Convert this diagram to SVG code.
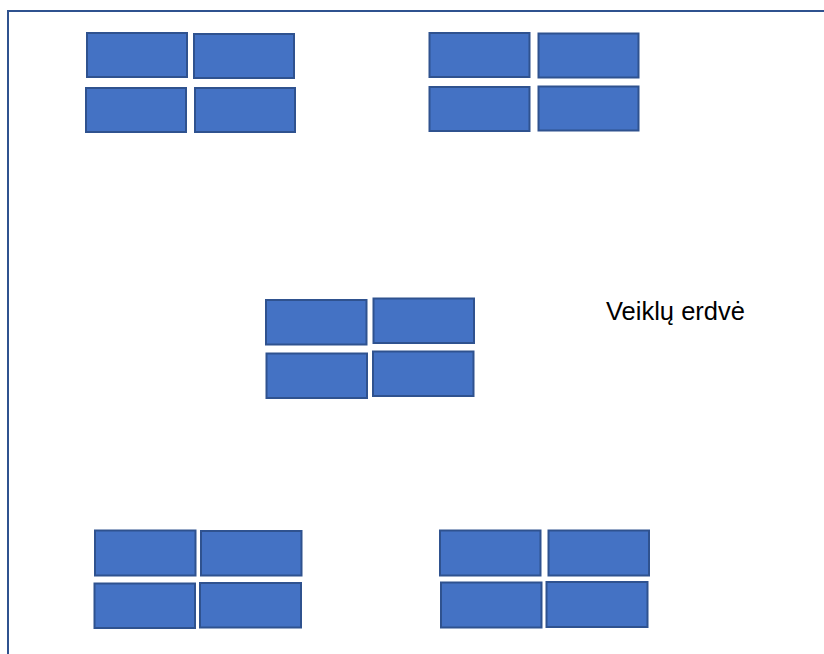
<svg xmlns="http://www.w3.org/2000/svg" width="824" height="654" viewBox="0 0 824 654">
<style>
.b{fill:#4472C4;stroke:#2F528F;stroke-width:2}
.frame{fill:none;stroke:#2F528F;stroke-width:2}
.t{font-family:"Liberation Sans",Arial,sans-serif;font-size:25.5px;fill:#000}
</style>
<rect x="0" y="0" width="824" height="654" fill="#fff"/>
<rect class="frame" x="8" y="11" width="830" height="660"/>
<g id="group1">
<rect class="b" x="87" y="33" width="100" height="44"/>
<rect class="b" x="194" y="34" width="100" height="44"/>
<rect class="b" x="86" y="88" width="100" height="44"/>
<rect class="b" x="195" y="88" width="100" height="44"/>
</g>
<g id="group2">
<rect class="b" x="429.5" y="33" width="100" height="44"/>
<rect class="b" x="538.5" y="33.5" width="100" height="44"/>
<rect class="b" x="429.5" y="87" width="100" height="44"/>
<rect class="b" x="538.5" y="86.5" width="100" height="44"/>
</g>
<g id="group3">
<rect class="b" x="266" y="300" width="100.5" height="44.5"/>
<rect class="b" x="373.5" y="298.5" width="100.5" height="44.5"/>
<rect class="b" x="266.5" y="353.5" width="100.5" height="44.5"/>
<rect class="b" x="373" y="351.5" width="100.5" height="44.5"/>
</g>
<g id="group4">
<rect class="b" x="95" y="530.5" width="100.5" height="45"/>
<rect class="b" x="201" y="531" width="100.5" height="44.5"/>
<rect class="b" x="94.5" y="583.5" width="100.5" height="44.5"/>
<rect class="b" x="200" y="583" width="101" height="44.5"/>
</g>
<g id="group5">
<rect class="b" x="440" y="530.5" width="100.5" height="45"/>
<rect class="b" x="548.5" y="530.5" width="100.5" height="45"/>
<rect class="b" x="441" y="582.5" width="100.5" height="45"/>
<rect class="b" x="546.5" y="582" width="101" height="45"/>
</g>
<g id="label">
<text class="t" x="606" y="320">Veiklų erdvė</text>
</g>
<g id="connectors"></g>
</svg>
